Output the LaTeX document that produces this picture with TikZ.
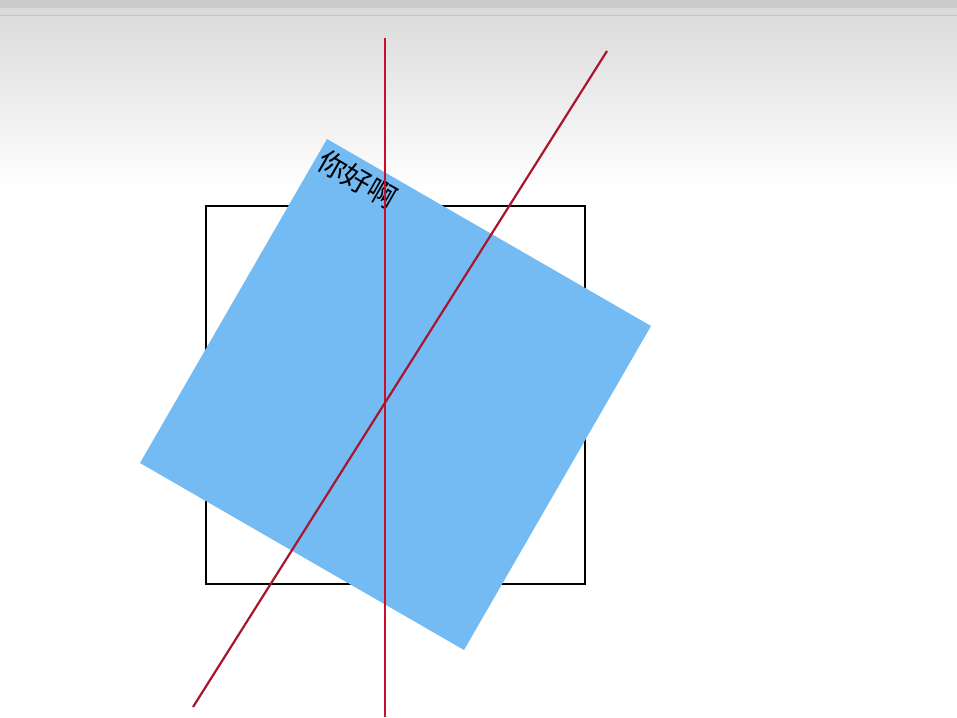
\documentclass[tikz,border=0pt]{standalone}
\usepackage{fontspec}
\newfontfamily\cjk{Noto Sans CJK SC}
\definecolor{bandA}{HTML}{CBCBCD}
\definecolor{bandB}{HTML}{DADADA}
\definecolor{bandLine}{HTML}{C4C4C4}
\definecolor{gradTop}{HTML}{DCDCDC}
\definecolor{paneblue}{HTML}{74BBF3}
\definecolor{axisred}{HTML}{C8102E}
\definecolor{diagred}{HTML}{A8162E}
\tikzset{
  frame/.style={draw=black, line width=2.6pt},
  pane/.style={fill=paneblue, draw=none},
  axis/.style={draw=axisred, line width=2.5pt},
  diag/.style={draw=diagred, line width=2.2pt},
}
\begin{document}
\begin{tikzpicture}[x=1pt,y=-1pt]
\useasboundingbox (0,0) rectangle (957,717);
\fill[white] (0,0) rectangle (957,717);
% top band
\fill[bandA] (0,0) rectangle (957,8);
\fill[bandB] (0,8) rectangle (957,15);
\fill[bandLine] (0,15) rectangle (957,17);
\shade[top color=gradTop, bottom color=white] (0,17) rectangle (957,192);
% black square
\coordinate (s1) at (206,206);
\coordinate (s2) at (585,584);
\draw[frame] (s1) rectangle (s2);
% rotated blue square
\coordinate (pT) at (327,139);
\coordinate (pR) at (651,326);
\coordinate (pB) at (464,650);
\coordinate (pL) at (140,463);
\path[pane] (pT) -- (pR) -- (pB) -- (pL) -- cycle;
\node[anchor=north west, rotate=-30, inner sep=0pt, font=\cjk\fontsize{28.5}{30}\selectfont] (label) at (327,146) {你好啊};
% lines
\coordinate (vTop) at (385,38);
\coordinate (vBot) at (385,717);
\coordinate (dTop) at (607,51);
\coordinate (dBot) at (193,707);
\draw[axis] (vTop) -- (vBot);
\draw[diag] (dTop) -- (dBot);
\end{tikzpicture}
\end{document}
